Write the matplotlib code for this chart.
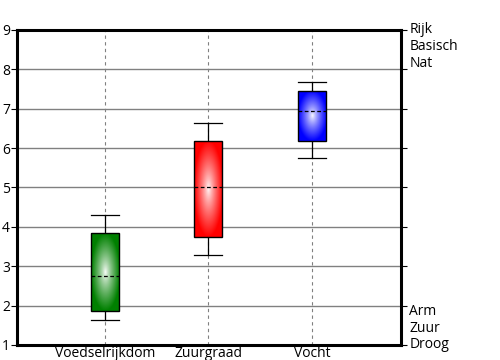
import numpy as np
import matplotlib
matplotlib.use('Agg')
from matplotlib import pyplot as plt
from matplotlib.colors import to_rgb
from matplotlib.ticker import MultipleLocator

plt.rcParams['font.family'] = ['Open Sans', 'DejaVu Sans']

categories = ['Voedselrijkdom', 'Zuurgraad', 'Vocht']
whisker_low = [1.64, 3.28, 5.74]
box_low = [1.86, 3.74, 6.17]
median = [2.74, 5.0, 6.94]
box_high = [3.84, 6.18, 7.44]
whisker_high = [4.30, 6.64, 7.67]
colors = ['#008000', '#ff0000', '#0000ff']
top_labels = ['Rijk', 'Basisch', 'Nat']
bottom_labels = ['Arm', 'Zuur', 'Droog']

fig = plt.figure(figsize=(5, 3.6), dpi=100)
ax = fig.add_axes([0.034, 0.0417, 0.768, 0.875])

stats = []
for i, name in enumerate(categories):
    stats.append({'label': name, 'whislo': whisker_low[i], 'q1': box_low[i],
                  'med': median[i], 'q3': box_high[i],
                  'whishi': whisker_high[i], 'fliers': []})

positions = np.arange(1, len(categories) + 1)
bp = ax.bxp(stats, positions=positions, widths=0.27, patch_artist=True,
            showfliers=False,
            boxprops=dict(facecolor='none', edgecolor='black', linewidth=1, zorder=4),
            medianprops=dict(color='black', linestyle=(0, (3, 2)), linewidth=0.9, zorder=5),
            whiskerprops=dict(color='black', linewidth=0.9),
            capprops=dict(color='black', linewidth=0.9),
            capwidths=0.27)

# radial gradient fill inside each box
n = 200
gx, gy = np.meshgrid(np.linspace(-1, 1, n), np.linspace(-1, 1, n))
rr = np.clip(np.sqrt(gx ** 2 + gy ** 2), 0, 1)
for i, box in enumerate(bp['boxes']):
    c = np.array(to_rgb(colors[i]))
    t = rr[..., None] ** 0.8
    img = (1 - t) * np.ones(3) + t * c
    x0 = positions[i] - 0.135
    im = ax.imshow(img, extent=(x0, x0 + 0.27, box_low[i], box_high[i]),
                   aspect='auto', origin='lower', zorder=3, interpolation='bilinear')
    im.set_clip_path(box)

ax.set_xlim(0.155, 3.855)
ax.set_ylim(1, 9)
ax.set_xticks(positions)
ax.set_xticklabels(categories, fontsize=10)
ax.tick_params(axis='x', length=0, pad=1)
ax.set_yticks(range(1, 10))
ax.yaxis.set_minor_locator(MultipleLocator(0.25))
ax.tick_params(axis='y', which='major', labelsize=10, length=4, width=0.8,
               color='black', direction='out', pad=1, right=True,
               labelright=False)
ax.tick_params(axis='y', which='minor', length=2, width=0.7, direction='inout',
               right=True, color='#333333')
for t in ax.yaxis.get_major_ticks():
    t.tick2line.set_color('#808080')

ax.grid(axis='y', color='#808080', linewidth=1, zorder=1)
for p in positions:
    ax.axvline(p, color='#808080', linestyle=(0, (3, 3)), linewidth=0.8, zorder=1)

for s in ax.spines.values():
    s.set_linewidth(2.2)

for j, lab in enumerate(top_labels):
    ax.annotate(lab, xy=(1, 9), xycoords=('axes fraction', 'data'),
                xytext=(6, -12 * j), textcoords='offset points',
                va='center', ha='left', fontsize=10, annotation_clip=False)
for j, lab in enumerate(bottom_labels):
    ax.annotate(lab, xy=(1, 1), xycoords=('axes fraction', 'data'),
                xytext=(6, 12 * (2 - j)), textcoords='offset points',
                va='center', ha='left', fontsize=10, annotation_clip=False)

plt.savefig('out.png', dpi=100)
